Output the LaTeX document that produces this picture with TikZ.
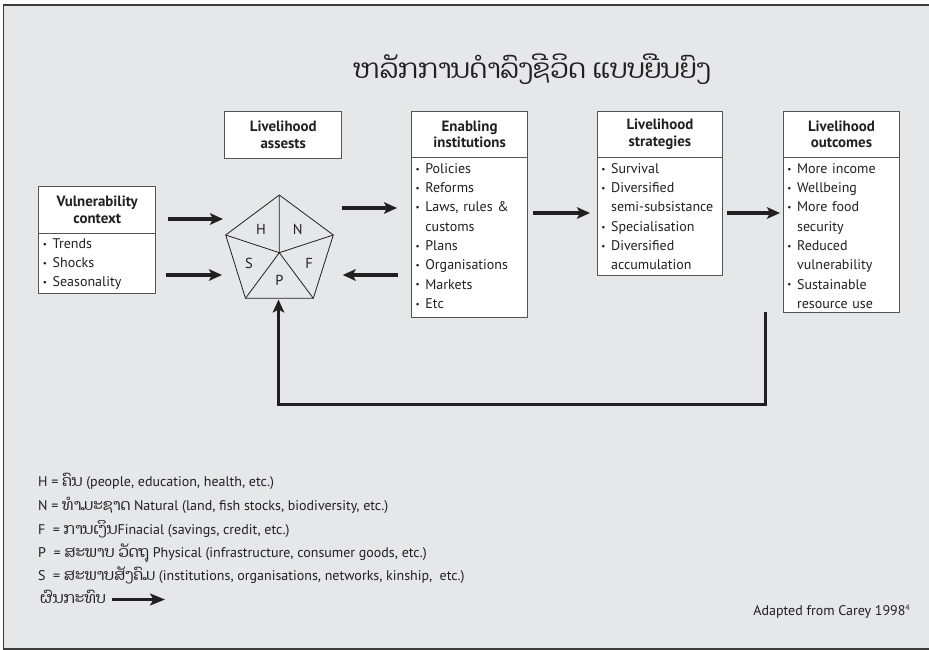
\documentclass[tikz,border=0pt]{standalone}
\usepackage{graphicx}
\usepackage{fontspec}
\setmainfont{PT Sans}
\newfontfamily\lao[Script=Lao, Scale=1.1]{Dhyana}
\usetikzlibrary{arrows.meta}
\definecolor{bg}{HTML}{E6E7E8}
\definecolor{ink}{HTML}{231F20}
\definecolor{boxc}{HTML}{555555}
\definecolor{framec}{HTML}{3C3C3C}
\newcommand\bul{\makebox[11pt][l]{\hspace{1.2pt}\raisebox{1.1pt}{\scalebox{0.65}{\textbullet}}}}
\newcommand\ind{\hspace*{11pt}}
\tikzset{
  hdr/.style={draw=boxc, fill=white, line width=0.9pt, inner sep=0pt, align=center, anchor=north west,
    font=\fontsize{14.9}{16.6}\selectfont\bfseries, text=ink},
  bodybox/.style={draw=boxc, fill=white, line width=0.9pt, inner sep=0pt, anchor=north west},
  items/.style={anchor=base west, inner sep=0pt, text width=120pt, align=left,
    font=\fontsize{14}{19.3}\selectfont, text=ink},
  flow/.style={line width=3.3pt, draw=ink, -{Stealth[length=13pt,width=11.5pt,inset=3pt]}},
  pent/.style={draw=ink, line width=0.8pt},
  plabel/.style={font=\fontsize{14.5}{16}\selectfont, text=ink, inner sep=0pt},
  legend/.style={anchor=base west, inner sep=0pt, font=\fontsize{14}{16}\selectfont, text=ink},
}
\begin{document}
\begin{tikzpicture}[x=1pt,y=-1pt]
\useasboundingbox (0,0) rectangle (929,650);
\fill[white] (0,0) rectangle (929,650);
\fill[bg] (3.5,5) rectangle (929,649);
\draw[framec, line width=1.4pt] (929,5) -- (3.5,5) -- (3.5,649) -- (929,649);

% title
\node[anchor=base, inner sep=0pt, font=\lao\fontsize{24.4}{30}\selectfont, text=ink] (title) at (532,79) {ຫລັກການດຳລົງຊີວິດ ແບບຍືນຍົງ};

% Vulnerability context
\node[hdr, minimum width=117, minimum height=47] (vh) at (38.3,185.7) {Vulnerability\\context};
\node[bodybox, minimum width=117, minimum height=60.6] (vb) at (38.3,232.7) {};
\node[items] (vt) at (41.5,248.3) {\bul Trends\\\bul Shocks\\\bul Seasonality};

% Livelihood assests
\node[hdr, minimum width=117, minimum height=46.7] (ah) at (224.3,111) {Livelihood\\assests};

% Enabling institutions
\node[hdr, minimum width=116.3, minimum height=46.6] (eh) at (411,110.7) {Enabling\\institutions};
\node[bodybox, minimum width=116.3, minimum height=160] (eb) at (411,157.3) {};
\node[items] (et) at (414.2,173.3) {\bul Policies\\\bul Reforms\\\bul Laws, rules \&\\\ind customs\\\bul Plans\\\bul Organisations\\\bul Markets\\\bul Etc};

% Livelihood strategies
\node[hdr, minimum width=125.6, minimum height=46.6] (sh) at (596.7,110.7) {Livelihood\\strategies};
\node[bodybox, minimum width=125.6, minimum height=117.7] (sb) at (596.7,157.3) {};
\node[items, text width=124pt] (st) at (599.9,173.3) {\bul Survival\\\bul Diversified\\\ind semi-subsistance\\\bul Specialisation\\\bul Diversified\\\ind accumulation};

% Livelihood outcomes
\node[hdr, minimum width=116.6, minimum height=46.6] (oh) at (782.7,110.7) {Livelihood\\outcomes};
\node[bodybox, minimum width=116.6, minimum height=155] (ob) at (782.7,157.3) {};
\node[items] (ot) at (785.9,173.3) {\bul More income\\\bul Wellbeing\\\bul More food\\\ind security\\\bul Reduced\\\ind vulnerability\\\bul Sustainable\\\ind resource use};

% pentagon
\coordinate (pc) at (279.3,252.7);
\coordinate (pt) at (279.3,195);
\coordinate (pr) at (333.3,235);
\coordinate (pbr) at (313.3,298.3);
\coordinate (pbl) at (245.5,298.3);
\coordinate (pl) at (225.7,235);
\draw[pent, line join=miter] (pt) -- (pr) -- (pbr) -- (pbl) -- (pl) -- cycle;
\draw[pent] (pc) -- (pt) (pc) -- (pr) (pc) -- (pbr) (pc) -- (pbl) (pc) -- (pl);
\node[plabel] (lH) at (261,229) {H};
\node[plabel] (lN) at (297.7,229) {N};
\node[plabel] (lS) at (249,263) {S};
\node[plabel] (lF) at (309,263) {F};
\node[plabel] (lP) at (279.3,280.7) {P};

% arrows
\coordinate (a1s) at (168,219);   \coordinate (a1e) at (223,219);
\coordinate (a2s) at (166,275);   \coordinate (a2e) at (222,275);
\coordinate (a3s) at (341.7,208); \coordinate (a3e) at (397,208);
\coordinate (a4s) at (398,275);   \coordinate (a4e) at (342.7,275);
\coordinate (a5s) at (533,213);   \coordinate (a5e) at (590,213);
\coordinate (a6s) at (726.7,213); \coordinate (a6e) at (780,213);
\draw[flow] (a1s) -- (a1e);
\draw[flow] (a2s) -- (a2e);
\draw[flow] (a3s) -- (a3e);
\draw[flow] (a4s) -- (a4e);
\draw[flow] (a5s) -- (a5e);
\draw[flow] (a6s) -- (a6e);
\coordinate (fbs) at (765,312.3);
\coordinate (fbe) at (278.5,299.5);
\draw[flow, line width=3pt, line join=miter] (fbs) -- (765,404.3) -- (278.5,404.3) -- (fbe);

% legend
\node[legend] (g1) at (38,486) {H = {\lao ຄົນ} (people, education, health, etc.)};
\node[legend] (g2) at (38,510) {N = {\lao ທຳມະຊາດ} Natural (land, fish stocks, biodiversity, etc.)};
\node[legend] (g3) at (38,534) {F \ = {\lao ການເງິນ}Finacial (savings, credit, etc.)};
\node[legend] (g4) at (38,557.5) {P \ = {\lao ສະພາບ ວັດຖຸ} Physical (infrastructure, consumer goods, etc.)};
\node[legend] (g5) at (38,580.5) {S \ = {\lao ສະພາບສັງຄົມ} (institutions, organisations, networks, kinship, \ etc.)};
\node[legend] (g6) at (40,603) {\lao ຜົນກະທົບ};
\coordinate (g6e) at (165,599.5);
\draw[ink, line width=2.2pt, -{Stealth[length=15pt,width=12pt,inset=3.5pt]}] ([xshift=6pt]g6.east |- g6e) -- (g6e);

% source
\node[anchor=base east, inner sep=0pt, font=\fontsize{14}{16}\selectfont, text=ink] (src) at (910,615) {Adapted from Carey 1998\raisebox{5pt}{\fontsize{8}{9}\selectfont 4}};
\end{tikzpicture}
\end{document}
